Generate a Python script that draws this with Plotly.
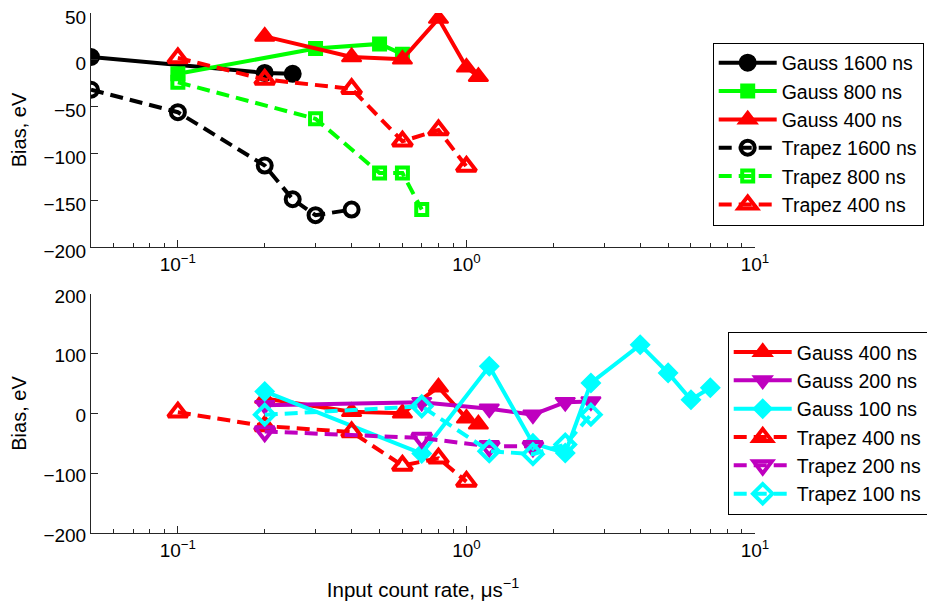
import plotly.graph_objects as go

# ---------------- data ----------------
top_g1600_x = [0.05, 0.2, 0.25]
top_g1600_y = [3, -14, -15]
top_g800_x = [0.1, 0.3, 0.5, 0.6]
top_g800_y = [-15, 12, 17, 6]
g400_x = [0.2, 0.4, 0.6, 0.8, 1.0, 1.1]
g400_y = [25, 3, 0.5, 44, -8, -18]
top_t1600_x = [0.05, 0.1, 0.2, 0.25, 0.3, 0.4]
top_t1600_y = [-32, -56, -113, -149, -166, -160]
top_t800_x = [0.1, 0.3, 0.5, 0.6, 0.7]
top_t800_y = [-24, -63, -121, -121, -160]
t400_x = [0.1, 0.2, 0.4, 0.6, 0.8, 1.0]
t400_y = [2, -21, -31, -87, -75, -114]

bot_g200_x = [0.2, 0.7, 1.2, 1.7, 2.2, 2.7]
bot_g200_y = [14, 19, 8, -2, 19, 20]
bot_g100_x = [0.2, 0.7, 1.2, 1.7, 2.2, 2.7, 4, 5, 6, 7]
bot_g100_y = [37, -67, 79, -50, -66, 51, 115, 68, 23, 43]
bot_t200_x = [0.2, 0.7, 1.2, 1.7]
bot_t200_y = [-30, -41, -55, -55]
bot_t100_x = [0.2, 0.7, 1.2, 1.7, 2.2, 2.7]
bot_t100_y = [-2, 12, -63, -68, -52, -2]

x_major = [0.1, 1, 10]
x_major_text = ["10<sup>\u22121</sup>", "10<sup>0</sup>", "10<sup>1</sup>"]
x_minor = [0.05, 0.06, 0.07, 0.08, 0.09, 0.2, 0.3, 0.4, 0.5, 0.6, 0.7, 0.8, 0.9,
           2, 3, 4, 5, 6, 7, 8, 9]
top_yticks = [-200, -150, -100, -50, 0, 50]
bot_yticks = [-200, -100, 0, 100, 200]

BLACK = "#000000"
GREEN = "#00FF00"
RED = "#FF0000"
PURPLE = "#BF00BF"
CYAN = "#00FFFF"
DASH = "13px,7px"
LW = 4

FONT = "Liberation Sans, Arial, sans-serif"

fig = go.Figure()


def add(x, y, name, color, symbol, size, dash, filled, yaxis, legend):
    if filled:
        marker = dict(symbol=symbol, size=size, color=color,
                      line=dict(color=color, width=2))
    else:
        marker = dict(symbol=symbol + "-open", size=size, color=color,
                      line=dict(color=color, width=4))
    fig.add_trace(go.Scatter(
        x=x, y=y, name=name, mode="lines+markers",
        line=dict(color=color, width=LW, dash=dash),
        marker=marker, xaxis="x" if yaxis == "y" else "x2", yaxis=yaxis,
        legend=legend))


# top panel
add(top_g1600_x, top_g1600_y, "Gauss 1600 ns", BLACK, "circle", 16, "solid", True, "y", "legend")
add(top_g800_x, top_g800_y, "Gauss 800 ns", GREEN, "square", 13, "solid", True, "y", "legend")
add(g400_x, g400_y, "Gauss 400 ns", RED, "triangle-up", 17, "solid", True, "y", "legend")
add(top_t1600_x, top_t1600_y, "Trapez 1600 ns", BLACK, "circle", 14, DASH, False, "y", "legend")
add(top_t800_x, top_t800_y, "Trapez 800 ns", GREEN, "square", 11, DASH, False, "y", "legend")
add(t400_x, t400_y, "Trapez 400 ns", RED, "triangle-up", 17, DASH, False, "y", "legend")

# bottom panel
add(g400_x, g400_y, "Gauss 400 ns", RED, "triangle-up", 17, "solid", True, "y2", "legend2")
add(bot_g200_x, bot_g200_y, "Gauss 200 ns", PURPLE, "triangle-down", 17, "solid", True, "y2", "legend2")
add(bot_g100_x, bot_g100_y, "Gauss 100 ns", CYAN, "diamond", 14, "solid", True, "y2", "legend2")
add(t400_x, t400_y, "Trapez 400 ns", RED, "triangle-up", 17, DASH, False, "y2", "legend2")
add(bot_t200_x, bot_t200_y, "Trapez 200 ns", PURPLE, "triangle-down", 17, DASH, False, "y2", "legend2")
add(bot_t100_x, bot_t100_y, "Trapez 100 ns", CYAN, "diamond", 15, DASH, False, "y2", "legend2")

axis_common = dict(
    type="log", range=[-1.30103, 1], showline=True, linecolor="#262626", linewidth=1,
    ticks="inside", ticklen=7, tickcolor="#262626", tickvals=x_major, ticktext=x_major_text,
    showgrid=False, zeroline=False, mirror=False, automargin=False,
    ticklabeloverflow="allow",
    minor=dict(tickvals=x_minor, ticks="inside", ticklen=4, tickcolor="#262626", showgrid=False),
    tickfont=dict(size=19, color="black", family=FONT),
)
yaxis_common = dict(
    showline=True, linecolor="#262626", linewidth=1, ticks="inside", ticklen=7,
    tickcolor="#262626", showgrid=False, zeroline=False, automargin=False,
    ticklabeloverflow="allow",
    tickfont=dict(size=19, color="black", family=FONT),
)

legend_common = dict(
    bordercolor="black", borderwidth=1, bgcolor="white",
    font=dict(size=19.5, family=FONT, color="black"),
    itemwidth=58, tracegroupgap=0, xanchor="left", yanchor="middle",
)

fig.update_layout(
    width=935, height=607,
    margin=dict(l=83, r=188, t=5, b=82, autoexpand=False),
    paper_bgcolor="white", plot_bgcolor="white",
    font=dict(family=FONT, size=20, color="black"),
    xaxis=dict(axis_common, anchor="y"),
    xaxis2=dict(axis_common, anchor="y2",
                title=dict(text="Input count rate, \u03bcs<sup>\u22121</sup>",
                           font=dict(size=20.5, family=FONT), standoff=22)),
    yaxis=dict(yaxis_common, domain=[0.55, 1], range=[-200, 50], tickvals=top_yticks,
               anchor="x", ticklabelshift=4,
               title=dict(text="Bias, eV", font=dict(size=20, family=FONT), standoff=12)),
    yaxis2=dict(yaxis_common, domain=[0, 0.4596], range=[-200, 200], tickvals=bot_yticks,
                anchor="x2", ticklabelshift=2,
                title=dict(text="Bias, eV", font=dict(size=20, family=FONT), standoff=12)),
    legend=dict(legend_common, x=0.9363, y=0.7673),
    legend2=dict(legend_common, x=0.9589, y=0.211),
)

fig.write_html("out.html")
